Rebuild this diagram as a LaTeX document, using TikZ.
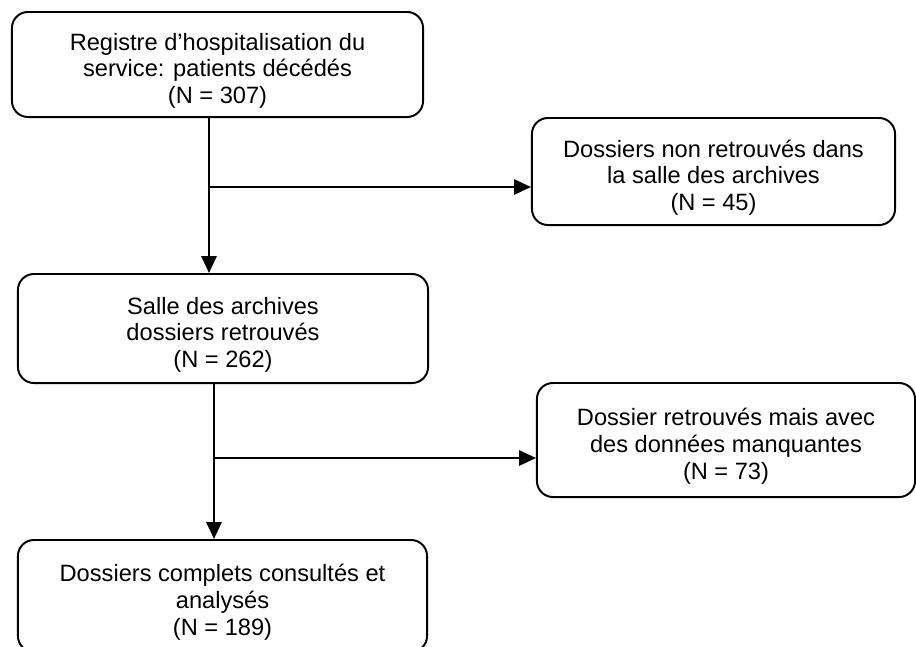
\documentclass[tikz,border=0pt]{standalone}
\usepackage{fontspec}
\setmainfont{Liberation Sans}
\usetikzlibrary{arrows.meta}

\begin{document}
\begin{tikzpicture}[x=0.025cm, y=-0.025cm,
    flowbox/.style={draw, line width=1.4pt, rounded corners=0.4cm, align=center,
      inner sep=0pt, text height=59pt, font=\fontsize{16.8}{18.9}\selectfont},
    flowarrow/.style={line width=1.4pt, -{Triangle[length=0.42cm, width=0.38cm]}}]
    % Fix the page to the size of the reference (pixel units, y going down).
    \useasboundingbox (0,0) rectangle (916,646);
    \clip (0,0) rectangle (916,646);
    % Draw the boxes of the flow chart.
    \node[flowbox, minimum width=10.275cm, minimum height=2.625cm] (registre) at (217.5,64.5)
      {Registre d’hospitalisation du\\service: patients décédés\\(N = 307)};
    \node[flowbox, minimum width=9.075cm, minimum height=2.675cm] (nonretrouves) at (713.5,171.5)
      {Dossiers non retrouvés dans\\la salle des archives\\(N = 45)};
    \node[flowbox, minimum width=10.25cm, minimum height=2.725cm] (salle) at (223,328.5)
      {Salle des archives\\dossiers retrouvés\\(N = 262)};
    \node[flowbox, minimum width=9.45cm, minimum height=2.85cm] (manquantes) at (726,440)
      {Dossier retrouvés mais avec\\des données manquantes\\(N = 73)};
    \node[flowbox, minimum width=10.225cm, minimum height=2.8cm] (complets) at (222.5,596)
      {Dossiers complets consultés et\\analysés\\(N = 189)};
    % Branch points of the two exclusions.
    \coordinate (split1) at (209,187);
    \coordinate (split2) at (214,458);
    % Draw the arrows.
    \draw[flowarrow] (registre.south -| split1) -- (salle.north -| split1);
    \draw[flowarrow] (split1) -- (split1 -| nonretrouves.west);
    \draw[flowarrow] (salle.south -| split2) -- (complets.north -| split2);
    \draw[flowarrow] (split2) -- (split2 -| manquantes.west);
\end{tikzpicture}
\end{document}
